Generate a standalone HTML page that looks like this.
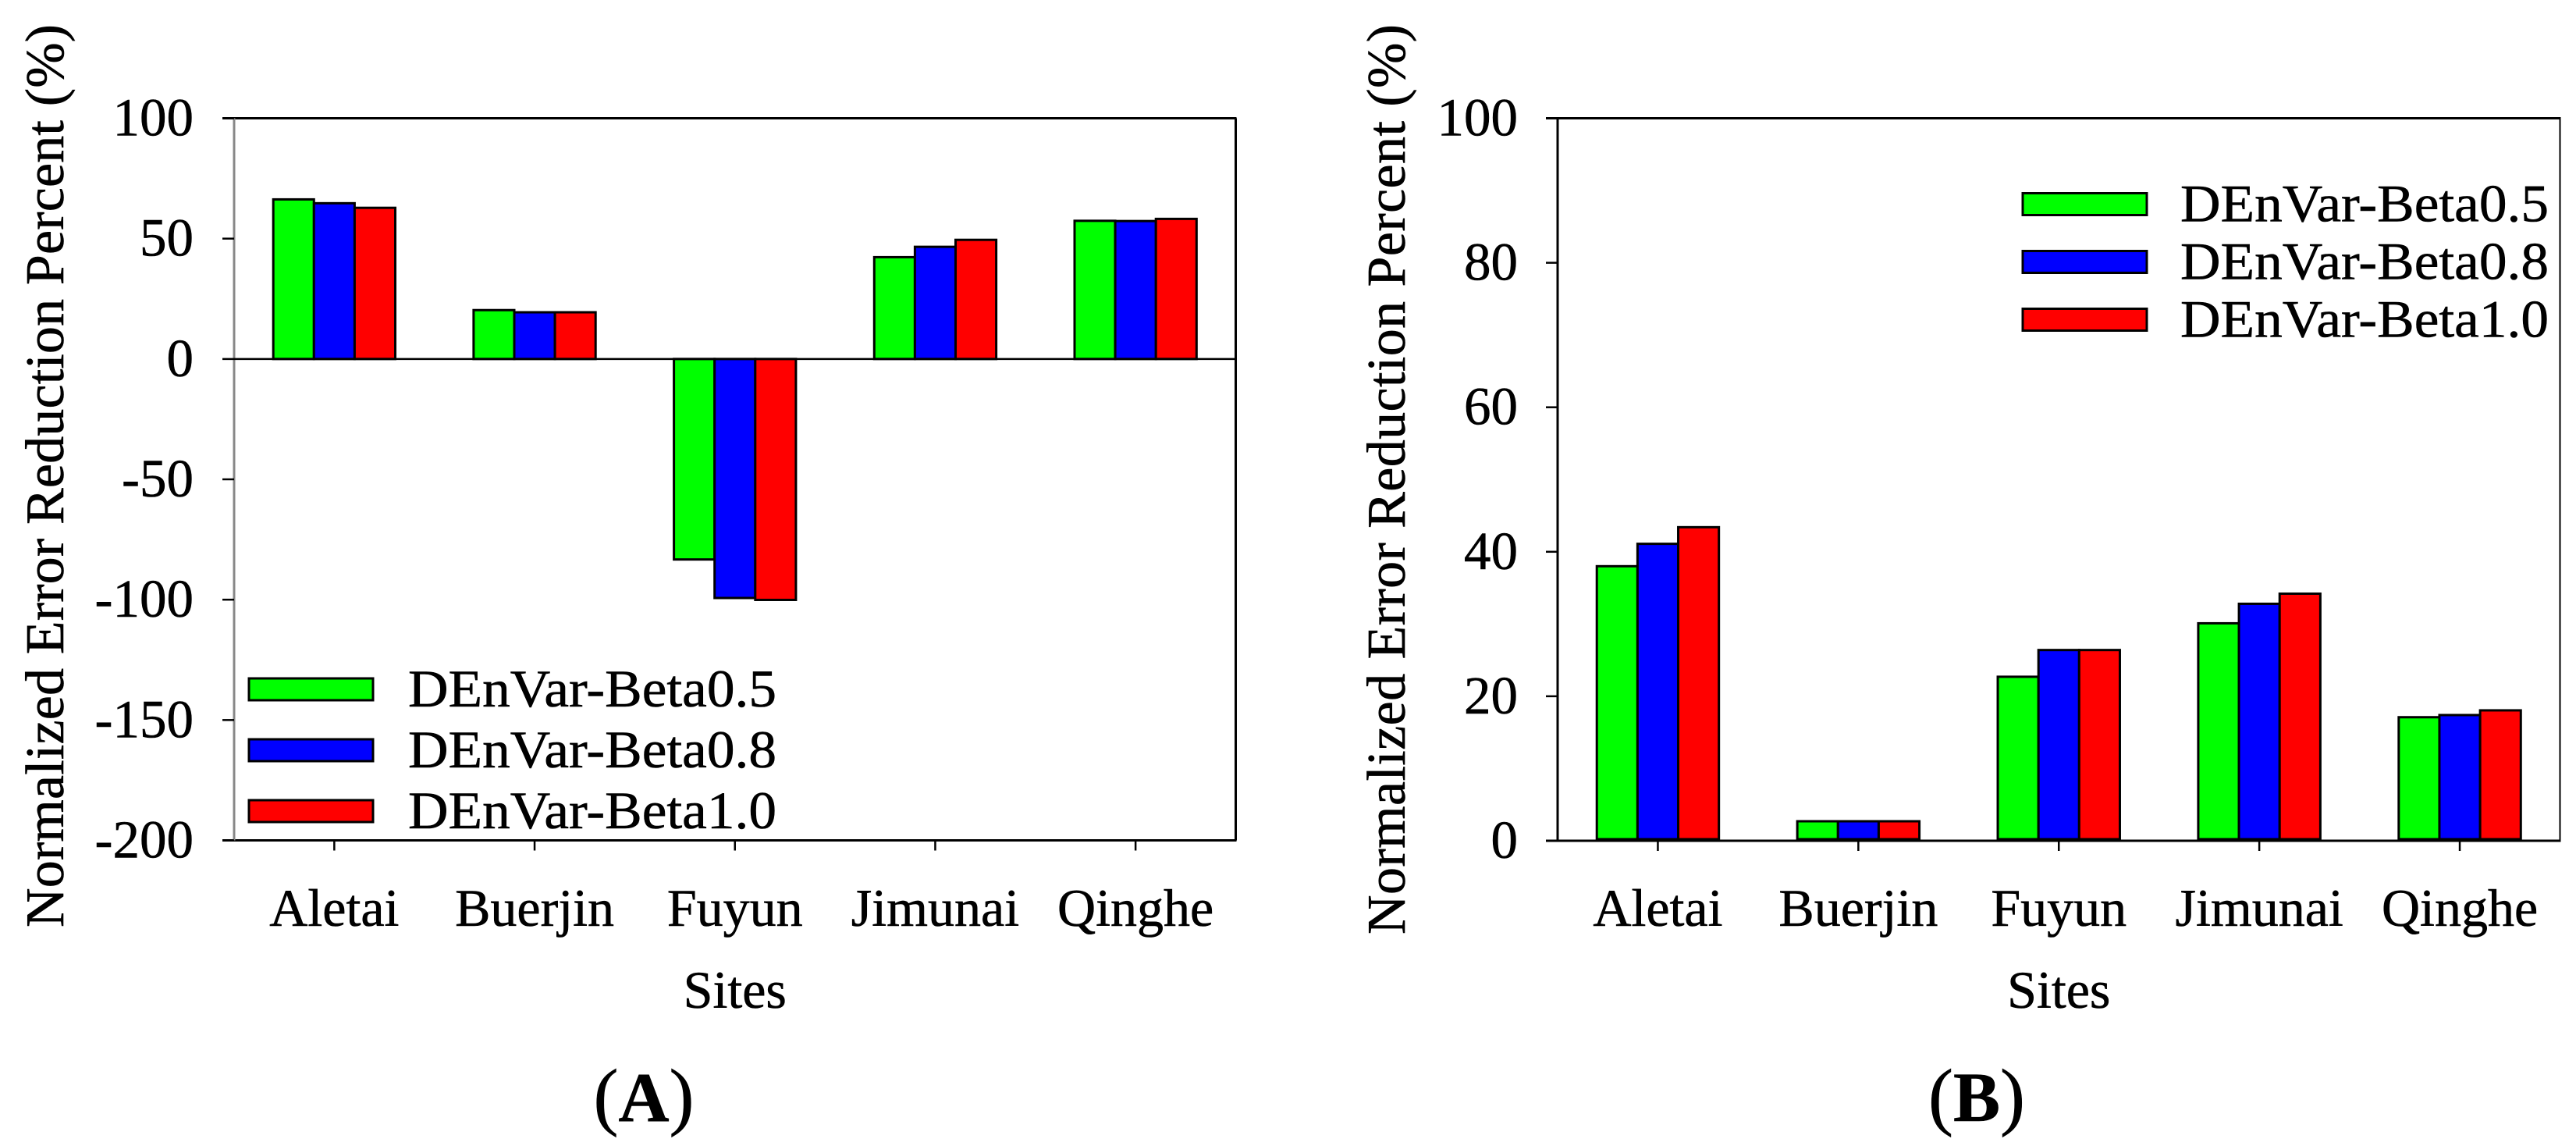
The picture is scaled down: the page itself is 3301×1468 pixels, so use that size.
<!DOCTYPE html>
<html lang="en">
<head>
<meta charset="utf-8">
<title>Normalized Error Reduction Percent by Site</title>
<style>
  html, body { margin: 0; padding: 0; background: #fff; }
  #chart { display: block; width: 3301px; height: 1468px; }
  text { font-family: "Liberation Serif", "Times New Roman", serif; fill: #000; stroke: #000; stroke-width: 0.6px; }
</style>
</head>
<body>
<svg id="chart" xmlns="http://www.w3.org/2000/svg" width="3301" height="1468" viewBox="0 0 3301 1468"></svg>
<script>
const categories = ['Aletai', 'Buerjin', 'Fuyun', 'Jimunai', 'Qinghe'];
const seriesNames = ['DEnVar-Beta0.5', 'DEnVar-Beta0.8', 'DEnVar-Beta1.0'];
const seriesColors = ['#00ff00', '#0000ff', '#ff0000'];

const panelATicks = [100, 50, 0, -50, -100, -150, -200];
const panelABeta05 = [66.3, 20.3, -83.3, 42.3, 57.4];
const panelABeta08 = [64.7, 19.4, -99.3, 46.6, 57.3];
const panelABeta10 = [62.8, 19.4, -100.1, 49.5, 58.2];

const panelBTicks = [100, 80, 60, 40, 20, 0];
const panelBBeta05 = [38.0, 2.7, 22.7, 30.1, 17.1];
const panelBBeta08 = [41.1, 2.7, 26.4, 32.8, 17.4];
const panelBBeta10 = [43.4, 2.7, 26.4, 34.2, 18.05];

const NS = 'http://www.w3.org/2000/svg';
const svg = document.getElementById('chart');

function make(parent, tag, attrs, content) {
  const el = document.createElementNS(NS, tag);
  for (const k in attrs) el.setAttribute(k, attrs[k]);
  if (content !== undefined) el.textContent = content;
  parent.appendChild(el);
  return el;
}

function drawPanel(cfg) {
  const g = make(svg, 'g', {});
  
  

  const yMin = cfg.ticks[cfg.ticks.length - 1];
  const yMax = cfg.ticks[0];
  const yScale = v => cfg.bottom - (v - yMin) / (yMax - yMin) * (cfg.bottom - cfg.top);
  const band = (cfg.right - cfg.left) / categories.length;
  const xScale = i => cfg.left + band * (i + 0.5);
  const barW = band * 0.203;
  const tickLeft = cfg.left - 15;

  // bars
  const baseY = yScale(0) - cfg.barBaseOffset;
  cfg.values.forEach((vals, s) => {
    vals.forEach((v, i) => {
      const y = yScale(v);
      const x = xScale(i) + (s - 1.5) * barW;
      const bar = make(g, 'rect', {
        x: x, y: Math.min(y, baseY), width: barW, height: Math.abs(baseY - y),
        fill: seriesColors[s], stroke: '#000', 'stroke-width': 3
      });
      
      
    });
  });

  // frame
  const topLine = make(g, 'line', { x1: tickLeft, x2: cfg.right + 1, y1: cfg.top, y2: cfg.top, stroke: '#000', 'stroke-width': 3 });
  
  
  const bottomLine = make(g, 'line', { x1: tickLeft, x2: cfg.right + 1, y1: cfg.bottom, y2: cfg.bottom, stroke: '#000', 'stroke-width': 3 });
  
  
  const rightLine = make(g, 'line', { x1: cfg.right, x2: cfg.right, y1: cfg.top, y2: cfg.bottom, stroke: '#000', 'stroke-width': cfg.rightWidth });
  
  
  const leftLine = make(g, 'line', { x1: cfg.left, x2: cfg.left, y1: cfg.top, y2: cfg.bottom, stroke: cfg.leftColor, 'stroke-width': 3 });
  
  

  // y ticks
  cfg.ticks.forEach(t => {
    const y = yScale(t);
    const isZeroInner = t === 0 && yMin < 0;
    const tick = make(g, 'line', { x1: tickLeft, x2: isZeroInner ? cfg.right : cfg.left, y1: y, y2: y, stroke: '#000', 'stroke-width': 2.5 });
    
    
    const label = make(g, 'text', { x: cfg.tickLabelX, y: y + 22, 'text-anchor': 'end', 'font-size': 69 }, String(t));
    
    
  });

  // x ticks + labels
  categories.forEach((c, i) => {
    const x = xScale(i);
    const tick = make(g, 'line', { x1: x, x2: x, y1: cfg.bottom, y2: cfg.bottom + 13, stroke: '#000', 'stroke-width': 2.5 });
    
    
    const label = make(g, 'text', { x: x, y: 1186, 'text-anchor': 'middle', 'font-size': 68 }, c);
    
    
  });

  // axis titles
  const xTitle = make(g, 'text', { x: xScale(2), y: 1291, 'text-anchor': 'middle', 'font-size': 68 }, 'Sites');
  
  
  const yTitle = make(g, 'text', {
    transform: 'translate(' + cfg.yTitleX + ',' + cfg.yTitleBottom + ') rotate(-90)',
    x: 0, y: 0, 'font-size': 70, textLength: cfg.yTitleLength, lengthAdjust: 'spacing'
  }, 'Normalized Error Reduction Percent (%)');
  
  

  // legend
  const legend = make(g, 'g', {});
  
  
  seriesNames.forEach((name, s) => {
    const base = cfg.legendBase + s * cfg.legendStep;
    const swatch = make(legend, 'rect', {
      x: cfg.swatchX, y: base - 36, width: cfg.swatchW, height: 28,
      fill: seriesColors[s], stroke: '#000', 'stroke-width': 3
    });
    
    
    const label = make(legend, 'text', {
      x: cfg.legendTextX, y: base, 'font-size': 68, textLength: 472, lengthAdjust: 'spacingAndGlyphs'
    }, name);
    
    
  });

  // panel caption
  const cap = make(g, 'text', { x: cfg.captionX, y: 1436, 'text-anchor': 'middle', 'font-size': 90 });
  
  
  make(cap, 'tspan', { 'font-size': 96 }, '(');
  make(cap, 'tspan', { 'font-weight': 'bold' }, cfg.letter);
  make(cap, 'tspan', { 'font-size': 96 }, ')');
}

drawPanel({
  id: 'panel-a', letter: 'A',
  ticks: panelATicks, values: [panelABeta05, panelABeta08, panelABeta10],
  left: 300, right: 1583.5, top: 151.5, bottom: 1076.5,
  barBaseOffset: 0, leftColor: '#888888', rightWidth: 3,
  tickLabelX: 248,
  yTitleX: 81, yTitleBottom: 1188, yTitleLength: 1157,
  legendBase: 905, legendStep: 78, swatchX: 319, swatchW: 159, legendTextX: 523,
  captionX: 825
});

drawPanel({
  id: 'panel-b', letter: 'B',
  ticks: panelBTicks, values: [panelBBeta05, panelBBeta08, panelBBeta10],
  left: 1996, right: 3280.5, top: 151.5, bottom: 1077,
  barBaseOffset: 2, leftColor: '#000000', rightWidth: 2,
  tickLabelX: 1945,
  yTitleX: 1800, yTitleBottom: 1197, yTitleLength: 1166,
  legendBase: 283.5, legendStep: 74, swatchX: 2592, swatchW: 159, legendTextX: 2794,
  captionX: 2533
});
</script>
</body>
</html>
